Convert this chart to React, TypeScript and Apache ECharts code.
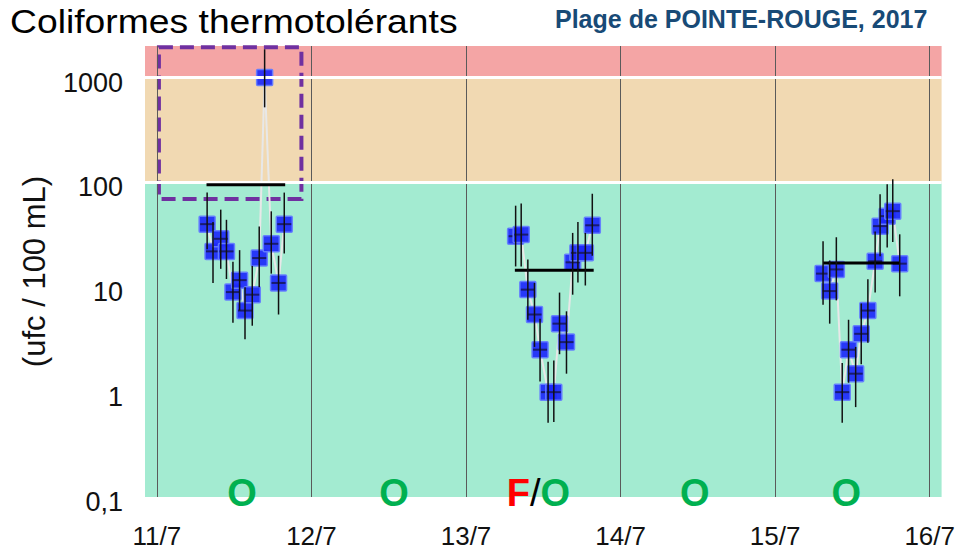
import React, { useEffect, useRef } from 'react';
import * as echarts from 'echarts';

// Day ticks (days after 11/7) and their labels
const dayTicks = [0, 1, 2, 3, 4, 5];
const dayLabels = ['11/7', '12/7', '13/7', '14/7', '15/7', '16/7'];

// Group 1 (11/7)
const g1Time = [0.325, 0.363, 0.413, 0.45, 0.492, 0.535, 0.57, 0.617, 0.662, 0.697, 0.74, 0.787, 0.824];
const g1Value = [40, 22, 29, 22, 9, 11.7, 6, 8.5, 19, 1000, 26, 11, 40];
const g1Low = [23, 11, 15, 12, 4.6, 6, 3.2, 4.3, 10, 520, 13.5, 5.5, 21];
const g1High = [80, 42, 55, 44, 17.5, 22.6, 10, 16, 38, 1860, 53, 20, 80];

// Group 2 (13/7)
const g2Time = [2.321, 2.357, 2.4, 2.443, 2.479, 2.531, 2.568, 2.605, 2.65, 2.69, 2.724, 2.772, 2.817];
const g2Value = [30.7, 31.8, 9.5, 5.5, 2.54, 1.0, 1.0, 4.5, 3.0, 17.3, 21.3, 21.3, 39];
const g2Low = [15.8, 15.8, 4.9, 2.7, 1.26, 0.51, 0.52, 2.3, 1.5, 8.5, 11.1, 10.4, 20];
const g2High = [60, 63, 18.4, 11, 5, 1.95, 2.0, 8.9, 5.9, 33, 42, 33, 78];

// Group 3 (15/7)
const g3Time = [4.31, 4.353, 4.396, 4.434, 4.475, 4.521, 4.557, 4.6, 4.647, 4.679, 4.725, 4.761, 4.806];
const g3Value = [13.5, 9.2, 14.8, 1.0, 2.54, 1.5, 3.6, 6.0, 17.7, 38.3, 47.7, 53.2, 16.8];
const g3Low = [6.8, 4.5, 7.5, 0.51, 1.23, 0.72, 1.85, 2.96, 8.9, 19.8, 24, 27, 8.2];
const g3High = [27.5, 18, 30, 1.9, 4.9, 2.7, 7, 11.9, 34, 77, 96, 107, 32];

// Mean lines per group
const meanStart = [0.321, 2.316, 4.31];
const meanEnd = [0.83, 2.826, 4.805];
const meanValue = [95, 14.5, 17];

// Quality thresholds (band limits)
const bandLimits = [0.1, 100, 1000, 2000];

// Daily status labels
const statusX = [0.55, 1.535, 2.468, 3.48, 4.46];
const statusText = ['O', 'O', 'F/O', 'O', 'O'];

// Highlighted zone (dashed box)
const boxX = [0.013, 0.935];
const boxY = [69.6, 1945];

const FONT = '"Liberation Sans", Arial, sans-serif';

function buildPoints(t: number[], v: number[], lo: number[], hi: number[]) {
  return t.map((x, i) => [x, v[i], lo[i], hi[i]]);
}

export default function App() {
  const ref = useRef<HTMLDivElement>(null);

  useEffect(() => {
    if (!ref.current) return;
    const chart = echarts.init(ref.current, null, { renderer: 'svg' });

    const allPoints = [
      ...buildPoints(g1Time, g1Value, g1Low, g1High),
      ...buildPoints(g2Time, g2Value, g2Low, g2High),
      ...buildPoints(g3Time, g3Value, g3Low, g3High),
    ];
    const groups = [
      [g1Time, g1Value],
      [g2Time, g2Value],
      [g3Time, g3Value],
    ];

    const connectSeries = groups.map(([t, v], gi) => ({
      type: 'line',
      name: 'conn' + gi,
      z: 3,
      symbol: 'none',
      silent: true,
      data: (t as number[]).map((x, i) => [x, (v as number[])[i]]),
      lineStyle: { color: '#e8e8e8', width: 2 },
    }));

    const meanSeries = meanValue.map((m, i) => ({
      type: 'line',
      name: 'mean' + i,
      z: 5,
      symbol: 'none',
      silent: true,
      data: [
        [meanStart[i], m],
        [meanEnd[i], m],
      ],
      lineStyle: { color: '#000', width: 3 },
    }));

    const option: any = {
      animation: false,
      grid: { left: 145, right: 14, top: 46, bottom: 55 },
      graphic: [
        {
          type: 'text',
          left: 10,
          top: 5,
          scaleX: 1.13,
          style: { text: 'Coliformes thermotolérants', font: '33px ' + FONT, fill: '#000' },
        },
        {
          type: 'text',
          left: 555,
          top: 6,
          style: { text: 'Plage de POINTE-ROUGE, 2017', font: 'bold 25px ' + FONT, fill: '#184a76' },
        },
      ],
      xAxis: {
        type: 'value',
        min: -0.077,
        max: 5.077,
        axisLine: { show: false },
        axisTick: { show: false },
        splitLine: { show: false },
        axisLabel: {
          customValues: dayTicks,
          formatter: (v: number) => dayLabels[Math.round(v)] ?? '',
          fontSize: 26,
          fontFamily: FONT,
          color: '#111',
          margin: 26,
        },
      },
      yAxis: {
        type: 'log',
        logBase: 10,
        min: bandLimits[0],
        max: bandLimits[3],
        axisLine: { show: false },
        axisTick: { show: false },
        splitLine: { show: false },
        name: '(ufc / 100 mL)',
        nameLocation: 'middle',
        nameGap: 95,
        nameRotate: 90,
        nameTextStyle: { fontSize: 31, fontFamily: FONT, color: '#111' },
        axisLabel: {
          showMaxLabel: false,
          color: '#111',
          margin: 22,
          formatter: (v: number) => '{a|' + (v < 1 ? '0,1' : String(Math.round(v))) + '}',
          rich: {
            a: { fontSize: 27, fontFamily: FONT, color: '#111', padding: [10, 0, 0, 0] },
          },
        },
      },
      series: [
        {
          type: 'line',
          name: 'bands',
          z: 0,
          silent: true,
          data: [],
          markArea: {
            silent: true,
            label: { show: false },
            data: [
              [{ yAxis: bandLimits[2], itemStyle: { color: '#f4a5a5' } }, { yAxis: bandLimits[3] }],
              [{ yAxis: bandLimits[1], itemStyle: { color: '#f1d9b2' } }, { yAxis: bandLimits[2] }],
              [{ yAxis: bandLimits[0], itemStyle: { color: '#a3ebd1' } }, { yAxis: bandLimits[1] }],
            ],
          },
        },
        {
          type: 'line',
          name: 'grid',
          z: 1,
          silent: true,
          data: [],
          markLine: {
            silent: true,
            symbol: 'none',
            label: { show: false },
            data: [
              ...dayTicks.map((d) => ({ xAxis: d, lineStyle: { color: '#5a5a5a', width: 1, type: 'solid' } })),
              { yAxis: bandLimits[1], lineStyle: { color: '#ffffff', width: 3, type: 'solid' } },
              { yAxis: bandLimits[2], lineStyle: { color: '#ffffff', width: 3, type: 'solid' } },
            ],
          },
        },
        ...connectSeries,
        {
          type: 'custom',
          name: 'squares',
          z: 4,
          silent: true,
          data: allPoints,
          encode: { x: 0, y: 1 },
          renderItem: (params: any, api: any) => {
            const p = api.coord([api.value(0), api.value(1)]);
            const s = 16;
            return {
              type: 'group',
              children: [
                {
                  type: 'rect',
                  shape: { x: p[0] - s / 2, y: p[1] - s / 2, width: s, height: s, r: 1 },
                  style: { fill: 'rgba(28,40,250,0.92)', stroke: 'rgba(100,125,255,0.95)', lineWidth: 1.5 },
                },
                {
                  type: 'line',
                  shape: { x1: p[0] - s / 2 + 1, y1: p[1], x2: p[0] + s / 2 - 1, y2: p[1] },
                  style: { stroke: '#181b70', lineWidth: 2 },
                },
              ],
            };
          },
        },
        ...meanSeries,
        {
          type: 'custom',
          name: 'errorbars',
          z: 6,
          silent: true,
          data: allPoints,
          encode: { x: 0, y: 1 },
          renderItem: (params: any, api: any) => {
            const x = api.value(0);
            const lo = api.coord([x, api.value(2)]);
            const hi = api.coord([x, api.value(3)]);
            return {
              type: 'line',
              shape: { x1: lo[0], y1: lo[1], x2: hi[0], y2: hi[1] },
              style: { stroke: '#111', lineWidth: 1.5 },
            };
          },
          markArea: {
            silent: true,
            label: { show: false },
            itemStyle: {
              color: 'rgba(0,0,0,0)',
              borderColor: '#7030a0',
              borderWidth: 4,
              borderType: [14, 7],
            },
            data: [[{ coord: [boxX[0], boxY[1]] }, { coord: [boxX[1], boxY[0]] }]],
          },
        },
        {
          type: 'scatter',
          name: 'status',
          z: 7,
          silent: true,
          clip: false,
          symbolSize: 0,
          itemStyle: { opacity: 1 },
          data: statusX.map((x) => [x, 0.109]),
          label: {
            show: true,
            opacity: 1,
            position: 'inside',
            formatter: (p: any) => {
              const t = statusText[p.dataIndex];
              if (t === 'F/O') return '{r|F}{k|/}{g|O}';
              return '{g|' + t + '}';
            },
            rich: {
              g: { color: '#00b050', fontSize: 38, fontWeight: 'bold', fontFamily: FONT },
              r: { color: '#ff0000', fontSize: 38, fontWeight: 'bold', fontFamily: FONT },
              k: { color: '#000', fontSize: 38, fontFamily: FONT },
            },
          },
        },
      ],
    };

    chart.setOption(option);
    return () => chart.dispose();
  }, []);

  return (
    <div
      ref={ref}
      style={{ position: 'absolute', left: 0, top: 0, width: 958, height: 552, background: '#fff' }}
    />
  );
}
